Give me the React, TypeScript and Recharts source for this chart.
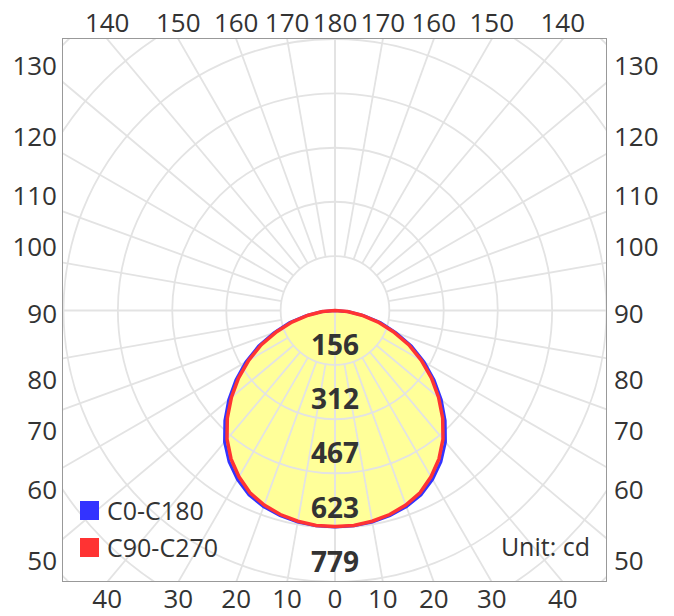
import {
  Legend,
  PolarAngleAxis,
  PolarGrid,
  PolarRadiusAxis,
  Radar,
  RadarChart,
} from 'recharts'

// gamma angles from nadir (deg) and luminous intensity (cd)
const GAMMA = [0, 5, 10, 15, 20, 25, 30, 35, 40, 45, 50, 55, 60, 65, 70, 75, 80, 85, 90]
const C0_C180 = [621, 620, 616, 609, 599, 584, 560, 530, 493, 447, 398, 347, 295, 242, 186, 135, 84, 40, 0]
const C90_C270 = [620, 619, 614, 606, 594, 577, 551, 520, 482, 437, 388, 338, 286, 234, 178, 128, 78, 36, 0]

// concentric rings (cd); only the ones inside the frame get a label
const RING_TICKS = [156, 312, 467, 623, 779, 935, 1091]
const MAX_CD = 779
const R_MAX = 1100 // radial domain, reaches past the frame corners
const RAY_TICKS = Array.from({ length: 36 }, (_, i) => i * 10)
const SAMPLE_DEG = Array.from({ length: 72 }, (_, i) => i * 5)

const BLUE = '#3333ff'
const RED = '#ff3333'
const YELLOW = '#ffff99'
const GRID = '#e3e3e3'
const TEXT = '#333333'
const FONT = "'Open Sans', 'Noto Sans', sans-serif"

const W = 674
const H = 616
const CX = 335
const CY = 310.5
const HALF_W = 272
const HALF_H = 271.5
const OUTER_R = (HALF_H * R_MAX) / MAX_CD
const RING1_R = (HALF_H * RING_TICKS[0]) / MAX_CD

// full turn around the plot; right half is C0 / C90, left half mirrors it
const data = SAMPLE_DEG.map((deg) => {
  const g = deg <= 180 ? deg : 360 - deg
  const k = GAMMA.indexOf(g)
  return {
    deg,
    c0: k >= 0 ? C0_C180[k] : 0,
    c90: k >= 0 ? C90_C270[k] : 0,
  }
})

function RingLabel(props: any) {
  const { x, y, payload } = props
  if (payload.value > MAX_CD) return <g />
  return (
    <text
      x={x}
      y={y - 10}
      textAnchor="middle"
      fontFamily={FONT}
      fontSize={28}
      fontWeight={700}
      fill={TEXT}
    >
      {Math.round(payload.value)}
    </text>
  )
}

// angle labels sit where each ray leaves the square frame
function AngleLabel(props: any) {
  const { payload } = props
  const a = (payload.coordinate * Math.PI) / 180
  const dx = Math.cos(a)
  let dy = -Math.sin(a)
  if (Math.abs(dy) < 1e-6) dy = 0
  const deg = payload.value % 360
  const gamma = deg <= 180 ? deg : 360 - deg
  let x: number
  let y: number
  let anchor: 'middle' | 'start' | 'end'
  if (Math.abs(dy) >= Math.abs(dx)) {
    x = CX + (dx / Math.abs(dy)) * HALF_H
    y = dy > 0 ? CY + HALF_H + 16 : CY - HALF_H - 17
    anchor = 'middle'
  } else {
    y = CY + (dy / Math.abs(dx)) * HALF_W + Math.sign(dy) * 19 + 2
    x = dx > 0 ? CX + HALF_W + 7 : CX - HALF_W - 6
    anchor = dx > 0 ? 'start' : 'end'
  }
  return (
    <text
      x={x}
      y={y}
      textAnchor={anchor}
      dominantBaseline="central"
      fontFamily={FONT}
      fontSize={26}
      fill={TEXT}
    >
      {gamma}
    </text>
  )
}

function LegendBox({ payload }: any) {
  const items = (payload ?? []).filter((e: any) => e.type !== 'none')
  return (
    <div style={{ fontFamily: FONT, fontSize: 25, color: TEXT }}>
      {items.map((e: any) => (
        <div
          key={e.value}
          style={{ display: 'flex', alignItems: 'center', height: 37 }}
        >
          <span
            style={{
              display: 'inline-block',
              width: 19,
              height: 19,
              background: e.color,
              marginRight: 8,
            }}
          />
          {e.value}
        </div>
      ))}
    </div>
  )
}

export default function App() {
  return (
    <div
      style={{
        position: 'absolute',
        left: 0,
        top: 0,
        width: W,
        height: H,
        background: '#fff',
        fontFamily: FONT,
      }}
    >
      <div style={{ position: 'absolute', left: CX - HALF_W, top: CY - HALF_H }}>
        <RadarChart
          width={HALF_W * 2}
          height={HALF_H * 2}
          data={data}
          cx="50%"
          cy="50%"
          innerRadius={0}
          outerRadius={OUTER_R}
          startAngle={-90}
          endAngle={270}
          margin={{ top: 0, right: 0, bottom: 0, left: 0 }}
        >
          <Radar
            dataKey="c0"
            stroke="none"
            fill={YELLOW}
            fillOpacity={1}
            legendType="none"
            isAnimationActive={false}
            zIndex={-300}
          />
          <PolarGrid
            gridType="circle"
            polarAngles={[90, 270]}
            stroke={GRID}
            strokeWidth={1.8}
            zIndex={-200}
          />
          <PolarAngleAxis
            dataKey="deg"
            type="number"
            domain={[0, 360]}
            ticks={RAY_TICKS}
            orientation="inner"
            tickSize={OUTER_R - RING1_R}
            axisLine={false}
            tick={false}
            tickLine={{ stroke: GRID, strokeWidth: 1.8 }}
            zIndex={-150}
          />
          <PolarRadiusAxis
            angle={-90}
            domain={[0, R_MAX]}
            ticks={RING_TICKS}
            axisLine={false}
            tickLine={false}
            tick={RingLabel}
            zIndex={500}
          />
          <Radar
            name="C0-C180"
            dataKey="c0"
            stroke={BLUE}
            strokeWidth={3}
            fill={BLUE}
            fillOpacity={0}
            isAnimationActive={false}
            zIndex={100}
          />
          <Radar
            name="C90-C270"
            dataKey="c90"
            stroke={RED}
            strokeWidth={3.5}
            fill={RED}
            fillOpacity={0}
            isAnimationActive={false}
            zIndex={110}
          />
          <Legend
            layout="vertical"
            align="center"
            verticalAlign="middle"
            wrapperStyle={{ left: 17, top: 452.5, width: 'auto' }}
            content={LegendBox}
          />
        </RadarChart>
      </div>

      <div style={{ position: 'absolute', left: 0, top: 0, pointerEvents: 'none' }}>
        <RadarChart
          width={W}
          height={H}
          data={data}
          cx={CX}
          cy={CY}
          innerRadius={0}
          outerRadius={OUTER_R}
          startAngle={-90}
          endAngle={270}
          margin={{ top: 0, right: 0, bottom: 0, left: 0 }}
        >
          <PolarAngleAxis
            dataKey="deg"
            type="number"
            domain={[0, 360]}
            ticks={RAY_TICKS}
            axisLine={false}
            tickLine={false}
            tick={AngleLabel}
          />
          <Radar
            dataKey="c0"
            stroke="none"
            fill="none"
            legendType="none"
            isAnimationActive={false}
          />
        </RadarChart>
      </div>

      <div
        style={{
          position: 'absolute',
          left: CX - HALF_W - 1,
          top: CY - HALF_H - 1,
          width: HALF_W * 2 + 1,
          height: HALF_H * 2 + 1,
          border: '1px solid #999',
          boxSizing: 'border-box',
          pointerEvents: 'none',
        }}
      />

      <div
        style={{
          position: 'absolute',
          left: 490,
          top: 534,
          width: 100,
          textAlign: 'right',
          fontSize: 25,
          lineHeight: '25px',
          color: TEXT,
          whiteSpace: 'nowrap',
        }}
      >
        Unit: cd
      </div>
    </div>
  )
}
